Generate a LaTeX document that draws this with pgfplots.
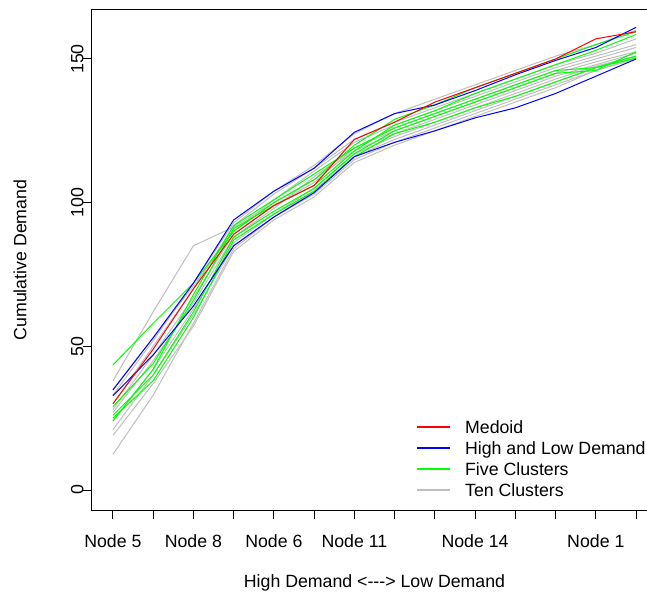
\documentclass[border=0pt]{standalone}
\usepackage{pgfplots}
\usepackage{pgfplotstable}
\pgfplotsset{compat=1.18}
\usepackage{fontspec}
\setmainfont{Liberation Sans}
\newcommand{\fs}{\fontsize{13.3pt}{16pt}\selectfont}
\definecolor{rgray}{HTML}{BEBEBE}
\definecolor{rred}{HTML}{FF0000}
\definecolor{rblue}{HTML}{0000FF}
\definecolor{rgreen}{HTML}{00FF00}

\pgfplotstableread{
x  r     bu    bl    g1    g2    g3    g4    g5    k1    k2    k3    k4    k5    k6    k7    k8    k9    k10
1  30    34.8  32.8  43.5  29    26    25    24    38    19    12.4  27    30    33    24    28    21    35
2  49    53    47    58    44    40    38    42    62    37    33    45    50    52    42    47    40    53
3  70    72    64    72    66    62    60    68    85    57    58    65    70    72    63    67    61    71
4  89    94    85    90    91    88    87    92    91.5  83    84    88    92    93    86    89    85    90
5  99    104   95    100   99    97    96    101   100   94    95    98    103   104   96    99    95    101
6  106   112   103.5 108   106   105   104   110   108   102   104   109   112   113   105   107   103   111
7  122   124.5 116   120   118   117   116   119   118   114   116   119   122   124   117   119   115   121
8  128   131   121   129   127   125   124   126   124   120   122   125   128   131   123   126   121   127
9  135   134   125   134   132   130   128   131   129   125   127   130   133   136   128   131   126   132
10 140   139   129.5 140   138   135   133   136   134   130   132   135   138   141   133   136   131   137
11 145   144.5 133   145   143   140   137   141   139   135   137   140   143   146   138   141   136   142
12 150   149.5 138   150   148   145   142   146   144   140   142   145   148   151   143   146   141   147
13 157   154   144   155   153   146   147   147   148   146   147   149   152   155   147.5 150   146   151
14 159.5 161   150   159.5 158.5 152.5 151   150.3 152   150.5 151   152.5 157   160   151   154   150   155
}\data

\begin{document}
\begin{tikzpicture}
\begin{axis}[
  at={(0,0)}, anchor=south west, scale only axis,
  width=423.75pt, height=375pt,
  xmin=0.48, xmax=14.52, ymin=-6.96, ymax=167.05,
  xtick={1,...,14},
  xticklabels={Node 5,{},Node 8,{},Node 6,{},Node 11,{},{},Node 14,{},{},Node 1,{}},
  ytick={0,50,100,150},
  tick align=outside, major tick length=6.5pt,
  xtick pos=bottom, ytick pos=left,
  axis line style={line width=0.75pt},
  every tick/.style={black, line width=0.75pt},
  tick label style={font=\fs},
  /pgf/number format/assume math mode=true,
  yticklabel style={rotate=90, anchor=base, inner sep=0pt},
  xticklabel style={anchor=base, inner sep=0pt, yshift=-21.5pt},
  xlabel={High Demand <{-}{-}{-}> Low Demand},
  ylabel={Cumulative Demand},
  xlabel style={at={(axis description cs:0.5,-0.1548)}, anchor=base, font=\fs, inner sep=0pt},
  ylabel style={at={(axis description cs:-0.1163,0.5)}, anchor=base, font=\fs, inner sep=0pt},
  legend style={draw=none, fill=none, at={(0.5735,0.18)}, anchor=north west,
    inner sep=0pt, outer sep=0pt, row sep=0pt, column sep=0pt, font=\fs,
    nodes={inner sep=0pt, text height=10pt, text depth=5.75pt, anchor=base west}},
  legend cell align=left,
  legend image code/.code={\draw[#1, line width=0.9pt] (0pt,4.8pt) -- (24.75pt,4.8pt); \path (36pt,4.8pt);},
  every axis plot/.append style={line width=0.75pt},
]
\addlegendimage{rred}\addlegendentry{Medoid}
\addlegendimage{rblue}\addlegendentry{High and Low Demand}
\addlegendimage{rgreen}\addlegendentry{Five Clusters}
\addlegendimage{rgray}\addlegendentry{Ten Clusters}
\foreach \c in {k1,k2,k3,k4,k5,k6,k7,k8,k9,k10}{
  \addplot[rgray, forget plot] table[x=x, y=\c] {\data};
}
\foreach \c in {g1,g2,g3,g4,g5}{
  \addplot[rgreen, forget plot] table[x=x, y=\c] {\data};
}
\addplot[rblue, forget plot] table[x=x, y=bu] {\data};
\addplot[rblue, forget plot] table[x=x, y=bl] {\data};
\addplot[rred, forget plot] table[x=x, y=r] {\data};
\end{axis}
\pgfresetboundingbox
\useasboundingbox (-69pt,-62.25pt) rectangle (416.25pt,382.5pt);
\end{tikzpicture}
\end{document}
